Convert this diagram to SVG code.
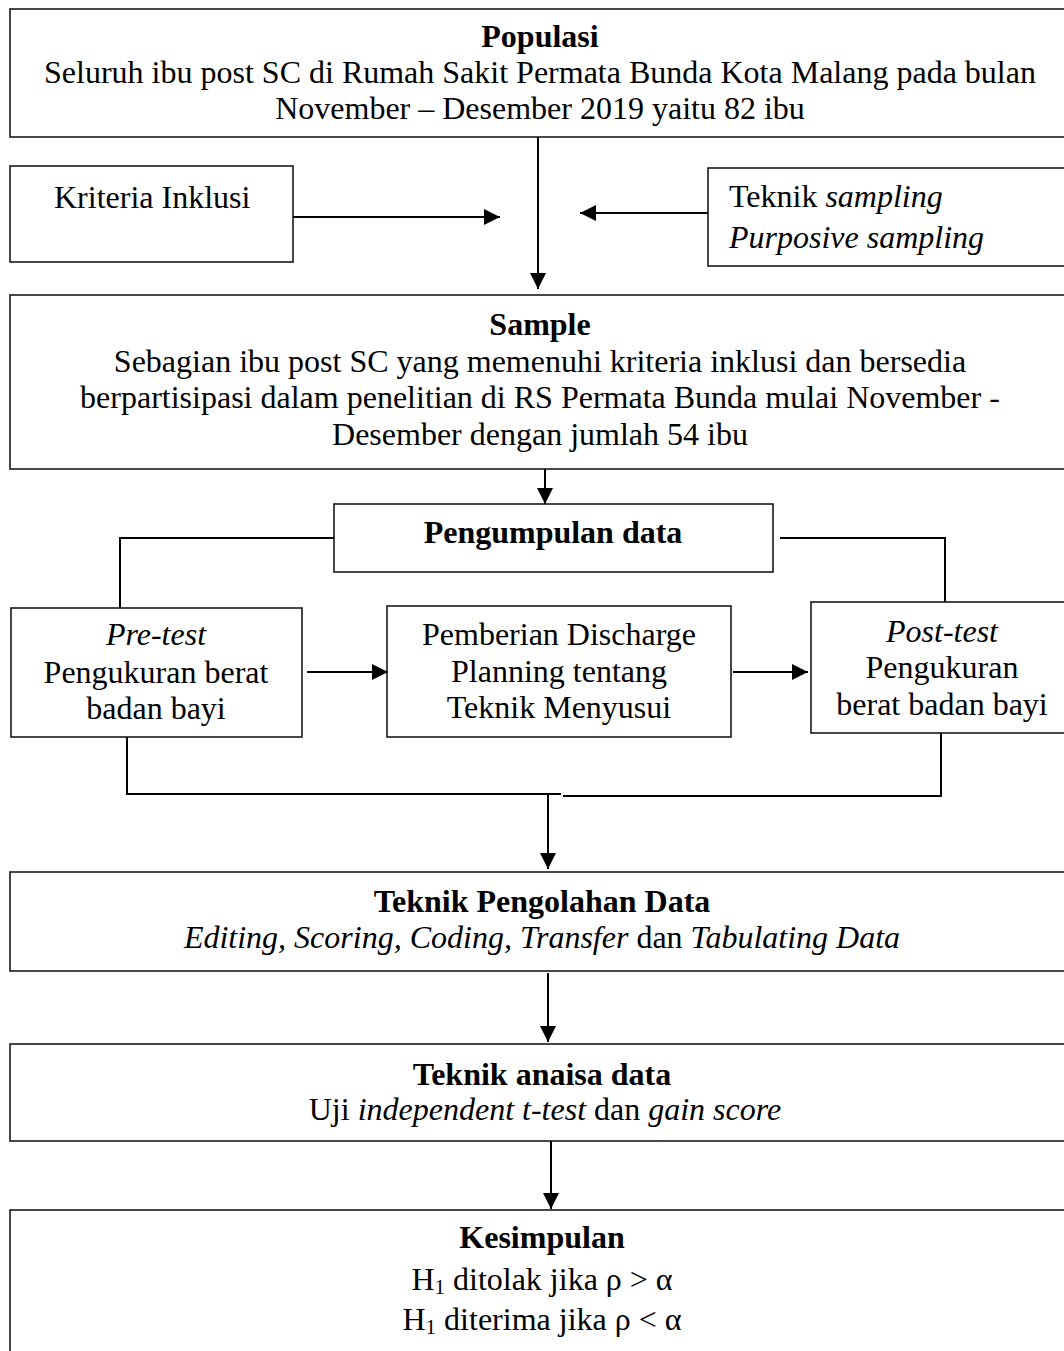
<svg xmlns="http://www.w3.org/2000/svg" width="1064" height="1351" viewBox="0 0 1064 1351">
<style>
.box{fill:#fff;stroke:#1a1a1a;stroke-width:1.6}
.t{font-family:"Liberation Serif","Times New Roman",serif;font-size:32px;fill:#000}
.c{text-anchor:middle}
.b{font-weight:bold}
.i{font-style:italic}
.ln{fill:none;stroke:#000;stroke-width:2}
</style>
<defs>
<marker id="ah" markerUnits="userSpaceOnUse" markerWidth="16" markerHeight="16" viewBox="0 0 16 16" refX="16" refY="8" orient="auto">
<path d="M0,0 L16,8 L0,16 Z" fill="#000"/>
</marker>
</defs>
<rect width="1064" height="1351" fill="#fff"/>
<g id="populasi">
<rect class="box" x="10" y="9" width="1060" height="128"/>
<text class="t c b" x="540" y="47">Populasi</text>
<text class="t c" x="540" y="83">Seluruh ibu post SC di Rumah Sakit Permata Bunda Kota Malang pada bulan</text>
<text class="t c" x="540" y="119">November – Desember 2019 yaitu 82 ibu</text>
</g>
<g id="kriteria">
<rect class="box" x="10" y="166" width="283" height="96"/>
<text class="t" x="54" y="208">Kriteria Inklusi</text>
</g>
<g id="teknik-sampling">
<rect class="box" x="708" y="168" width="362" height="98"/>
<text class="t" x="729" y="207">Teknik <tspan class="i">sampling</tspan></text>
<text class="t i" x="729" y="248">Purposive sampling</text>
</g>
<g id="sample">
<rect class="box" x="10" y="295" width="1060" height="174"/>
<text class="t c b" x="540" y="335">Sample</text>
<text class="t c" x="540" y="372">Sebagian ibu post SC yang memenuhi kriteria inklusi dan bersedia</text>
<text class="t c" x="540" y="408">berpartisipasi dalam penelitian di RS Permata Bunda mulai November -</text>
<text class="t c" x="540" y="445">Desember dengan jumlah 54 ibu</text>
</g>
<g id="pengumpulan">
<rect class="box" x="334" y="504" width="439" height="68"/>
<text class="t c b" x="553" y="543">Pengumpulan data</text>
</g>
<g id="pretest">
<rect class="box" x="11" y="608" width="291" height="129"/>
<text class="t c i" x="156" y="645">Pre-test</text>
<text class="t c" x="156" y="683">Pengukuran berat</text>
<text class="t c" x="156" y="719">badan bayi</text>
</g>
<g id="pemberian">
<rect class="box" x="387" y="606" width="344" height="131"/>
<text class="t c" x="559" y="645">Pemberian Discharge</text>
<text class="t c" x="559" y="682">Planning tentang</text>
<text class="t c" x="559" y="718">Teknik Menyusui</text>
</g>
<g id="posttest">
<rect class="box" x="811" y="602" width="260" height="131"/>
<text class="t c i" x="942" y="642">Post-test</text>
<text class="t c" x="942" y="678">Pengukuran</text>
<text class="t c" x="942" y="715">berat badan bayi</text>
</g>
<g id="pengolahan">
<rect class="box" x="10" y="872" width="1060" height="99"/>
<text class="t c b" x="542" y="912">Teknik Pengolahan Data</text>
<text class="t c" x="542" y="948"><tspan class="i">Editing, Scoring, Coding, Transfer</tspan> dan <tspan class="i">Tabulating Data</tspan></text>
</g>
<g id="analisa">
<rect class="box" x="10" y="1044" width="1060" height="97"/>
<text class="t c b" x="542" y="1085">Teknik anaisa data</text>
<text class="t c" x="545" y="1120">Uji <tspan class="i">independent t-test</tspan> dan <tspan class="i">gain score</tspan></text>
</g>
<g id="kesimpulan">
<rect class="box" x="10" y="1210" width="1060" height="160"/>
<text class="t c b" x="542" y="1248">Kesimpulan</text>
<text class="t c" x="542" y="1290">H<tspan font-size="21" dy="4">1</tspan><tspan dy="-4"> ditolak jika ρ &gt; α</tspan></text>
<text class="t c" x="542" y="1330">H<tspan font-size="21" dy="4">1</tspan><tspan dy="-4"> diterima jika ρ &lt; α</tspan></text>
</g>
<g id="connectors">
<line class="ln" x1="538" y1="137" x2="538" y2="289" marker-end="url(#ah)"/>
<line class="ln" x1="293" y1="217" x2="500" y2="217" marker-end="url(#ah)"/>
<line class="ln" x1="708" y1="213" x2="580" y2="213" marker-end="url(#ah)"/>
<line class="ln" x1="545" y1="469" x2="545" y2="504" marker-end="url(#ah)"/>
<polyline class="ln" points="334,538 120,538 120,608"/>
<polyline class="ln" points="780,538 945,538 945,602"/>
<line class="ln" x1="307" y1="672" x2="388" y2="672" marker-end="url(#ah)"/>
<line class="ln" x1="733" y1="672" x2="808" y2="672" marker-end="url(#ah)"/>
<polyline class="ln" points="127,737 127,794 561,794"/>
<polyline class="ln" points="563,796 941,796 941,733"/>
<line class="ln" x1="548" y1="794" x2="548" y2="869" marker-end="url(#ah)"/>
<line class="ln" x1="548" y1="973" x2="548" y2="1042" marker-end="url(#ah)"/>
<line class="ln" x1="551" y1="1141" x2="551" y2="1209" marker-end="url(#ah)"/>
</g>
</svg>
